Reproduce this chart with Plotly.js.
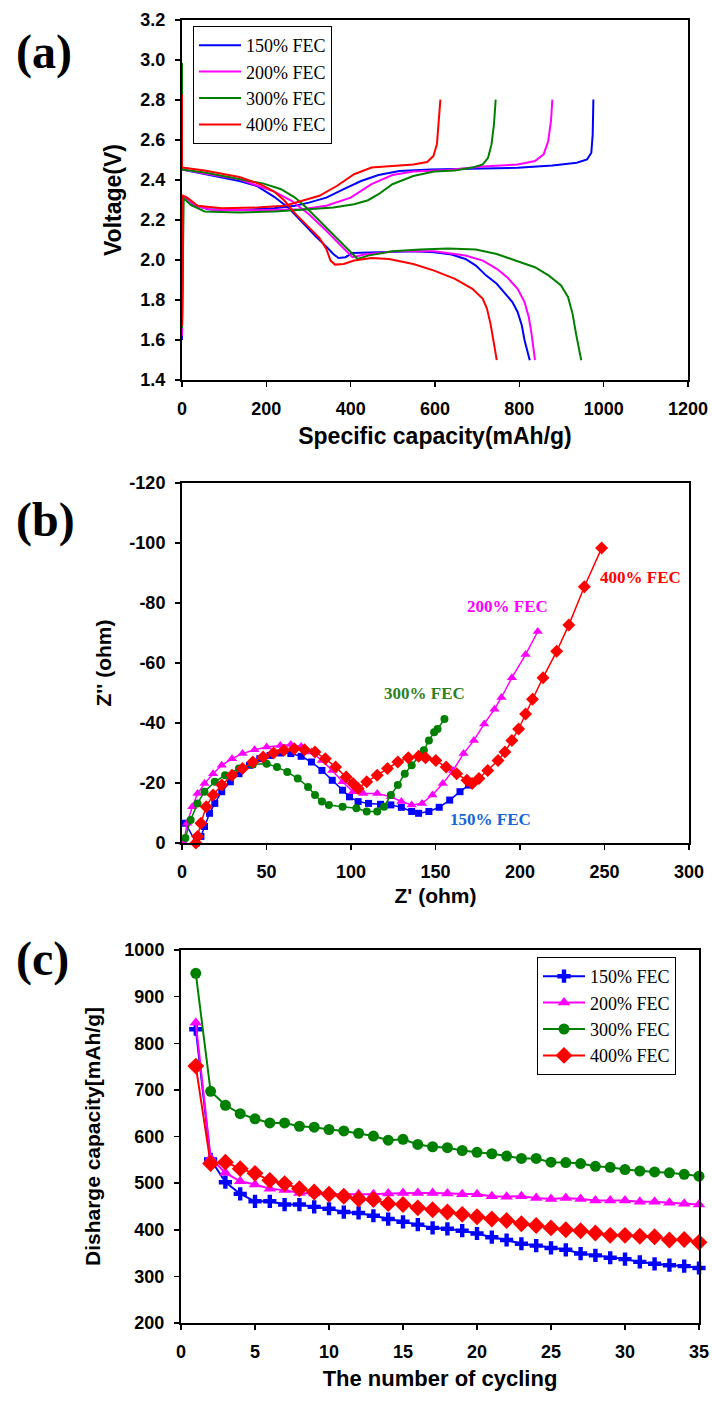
<!DOCTYPE html>
<html><head><meta charset="utf-8">
<script src="https://cdn.plot.ly/plotly-3.0.1.min.js"></script>
<style>html,body{margin:0;padding:0;background:#fff}</style>
</head><body><div id="chart" style="width:712px;height:1403px"></div>
<script>
// ---------- Panel (a): charge / discharge profiles ----------
const seriesNames = ['150% FEC', '200% FEC', '300% FEC', '400% FEC'];
const seriesColors = ['#0000FF', '#FF00FF', '#008000', '#FF0000'];

const dis150Cap = [0, 53.6, 136.1, 177.3, 218.6, 251.5, 284.5, 317.5, 342.3, 358.8, 371.1, 387.6, 404.1, 466.0, 548.5, 597.9, 639.2, 672.2, 696.9, 721.6, 746.4, 767.0, 783.5, 795.9, 805.8, 812.4, 819.0, 824.7];
const dis150V   = [2.453, 2.429, 2.395, 2.370, 2.316, 2.263, 2.188, 2.117, 2.067, 2.030, 2.010, 2.014, 2.035, 2.039, 2.044, 2.039, 2.027, 2.005, 1.972, 1.922, 1.881, 1.831, 1.790, 1.740, 1.674, 1.599, 1.541, 1.499];
const chg150Cap = [0, 2.5, 12.4, 28.9, 61.9, 136.1, 218.6, 268.0, 301.0, 342.3, 383.5, 424.7, 466.0, 515.5, 589.7, 672.2, 795.9, 878.3, 936.1, 960.8, 970.7, 974.0, 975.6, 975.6];
const chg150V   = [1.60, 2.321, 2.304, 2.276, 2.254, 2.249, 2.259, 2.271, 2.287, 2.312, 2.354, 2.395, 2.425, 2.445, 2.453, 2.457, 2.461, 2.473, 2.486, 2.503, 2.536, 2.627, 2.727, 2.802];

const dis200Cap = [0, 53.6, 136.1, 218.6, 259.8, 301.0, 342.3, 383.5, 404.1, 432.9, 507.2, 597.9, 672.2, 713.4, 746.4, 771.1, 795.9, 812.4, 822.3, 828.9, 833.8, 837.1];
const dis200V   = [2.453, 2.432, 2.404, 2.342, 2.296, 2.229, 2.146, 2.055, 2.014, 2.027, 2.044, 2.044, 2.022, 1.997, 1.956, 1.914, 1.856, 1.790, 1.715, 1.632, 1.566, 1.499];
const chg200Cap = [0, 2.5, 12.4, 37.1, 70.1, 177.3, 284.5, 342.3, 400.0, 449.5, 499.0, 548.5, 630.9, 713.4, 795.9, 837.1, 857.7, 868.4, 875.0, 878.3];
const chg200V   = [1.62, 2.316, 2.299, 2.268, 2.251, 2.249, 2.254, 2.271, 2.312, 2.379, 2.425, 2.442, 2.450, 2.467, 2.478, 2.495, 2.528, 2.594, 2.694, 2.802];

const dis300Cap = [0, 0, 53.6, 136.1, 193.8, 235.1, 268.0, 292.8, 325.8, 367.0, 400.0, 416.5, 441.2, 499.0, 565.0, 630.9, 696.9, 746.4, 795.9, 837.1, 870.1, 899.0, 915.4, 926.2, 934.4, 941.9, 946.8];
const dis300V   = [2.985, 2.453, 2.437, 2.404, 2.382, 2.354, 2.312, 2.266, 2.196, 2.110, 2.043, 2.005, 2.022, 2.044, 2.052, 2.057, 2.052, 2.030, 1.994, 1.964, 1.922, 1.873, 1.815, 1.732, 1.632, 1.549, 1.499];
const chg300Cap = [0, 4.1, 20.6, 53.6, 136.1, 218.6, 301.0, 358.8, 408.2, 441.2, 466.0, 499.0, 548.5, 597.9, 647.4, 688.6, 713.4, 725.8, 734.0, 739.8, 743.9];
const chg300V   = [1.66, 2.309, 2.276, 2.243, 2.238, 2.243, 2.254, 2.263, 2.279, 2.299, 2.329, 2.379, 2.420, 2.442, 2.448, 2.462, 2.478, 2.511, 2.578, 2.677, 2.802];

const dis400Cap = [0, 0, 53.6, 94.8, 136.1, 185.6, 218.6, 243.3, 268.0, 301.0, 325.8, 342.3, 352.2, 362.9, 383.5, 408.2, 449.5, 490.7, 548.5, 597.9, 647.4, 688.6, 713.4, 723.3, 731.6, 739.8, 746.4];
const dis400V   = [2.827, 2.462, 2.448, 2.432, 2.415, 2.379, 2.342, 2.296, 2.233, 2.163, 2.110, 2.055, 1.997, 1.977, 1.980, 1.997, 2.010, 2.005, 1.980, 1.947, 1.906, 1.856, 1.806, 1.756, 1.682, 1.582, 1.499];
const chg400Cap = [0, 2.5, 12.4, 37.1, 94.8, 177.3, 243.3, 284.5, 325.8, 367.0, 408.2, 449.5, 499.0, 548.5, 581.5, 596.3, 604.5, 608.7, 612.8];
const chg400V   = [1.67, 2.321, 2.312, 2.271, 2.259, 2.262, 2.271, 2.296, 2.321, 2.370, 2.429, 2.462, 2.470, 2.478, 2.490, 2.520, 2.578, 2.677, 2.802];

// ---------- Panel (b): Nyquist plots ----------
const eis150Re = [2.0, 8.5, 11.2, 13.3, 16.3, 19.4, 23.5, 28.6, 33.7, 39.9, 46.0, 52.1, 58.2, 64.4, 70.5, 76.6, 82.8, 88.9, 95.0, 99.1, 104.2, 110.4, 117.5, 123.6, 129.8, 135.9, 140.0, 146.1, 152.2, 158.4, 164.5, 169.6];
const eis150Im = [-6.6, 0, -2.2, -5.5, -9.9, -13.2, -17.1, -20.4, -23.1, -25.9, -28.1, -29.2, -30.0, -29.8, -28.9, -27.0, -24.2, -20.9, -17.6, -15.4, -13.8, -13.2, -12.9, -12.7, -11.9, -10.5, -9.9, -10.5, -11.9, -14.3, -17.1, -19.3];

const eis200Re = [1.0, 3.1, 6.1, 9.2, 13.3, 18.4, 23.5, 29.6, 35.8, 42.9, 50.1, 58.2, 64.4, 70.5, 76.6, 82.8, 88.9, 95.0, 101.2, 107.3, 115.5, 123.6, 129.8, 135.9, 142.0, 148.2, 154.3, 160.4, 166.6, 172.7, 178.8, 184.9, 189.0, 195.2, 203.3, 210.5];
const eis200Im = [-0.2, -6.6, -12.1, -16.5, -19.8, -23.1, -25.9, -28.1, -29.8, -31.1, -32.0, -32.5, -32.8, -32.2, -30.3, -27.5, -24.2, -20.4, -17.1, -16.5, -16.5, -15.4, -13.8, -12.7, -13.2, -16.0, -19.8, -24.2, -29.8, -34.2, -39.7, -44.6, -48.5, -55.1, -62.8, -70.5];

const eis300Re = [2.0, 5.1, 9.2, 13.3, 19.4, 25.5, 33.7, 41.9, 50.1, 56.2, 62.3, 68.5, 74.6, 78.7, 82.8, 86.9, 95.0, 103.2, 109.3, 115.5, 119.6, 123.6, 127.7, 131.8, 135.9, 140.0, 143.1, 146.1, 149.2, 151.2, 155.3];
const eis300Im = [-1.7, -7.7, -13.2, -17.1, -20.4, -22.6, -24.8, -26.2, -26.4, -25.3, -23.7, -21.5, -18.7, -16.0, -13.8, -12.7, -12.1, -11.6, -10.5, -10.5, -12.1, -16.0, -19.3, -23.1, -25.9, -28.7, -30.9, -34.2, -36.9, -38.0, -41.3];

const eis400Re = [8.2, 9.2, 11.2, 14.3, 18.4, 23.5, 29.6, 35.8, 41.9, 48.0, 54.2, 60.3, 66.4, 72.5, 78.7, 84.8, 90.9, 97.1, 101.2, 104.2, 109.3, 115.5, 121.6, 127.7, 133.9, 140.0, 144.1, 150.2, 156.3, 162.5, 168.6, 171.7, 175.7, 180.9, 187.0, 191.1, 195.2, 199.2, 203.3, 207.4, 213.6, 221.7, 228.9, 238.1, 248.3];
const eis400Im = [0, -2.2, -6.6, -12.1, -16.0, -19.3, -22.6, -24.8, -27.0, -28.7, -30.0, -30.9, -31.4, -31.1, -30.3, -28.1, -25.3, -22.0, -19.8, -18.2, -20.4, -22.6, -24.8, -27.0, -28.4, -28.9, -28.4, -27.5, -25.3, -23.1, -20.9, -19.8, -21.5, -24.2, -27.5, -30.3, -34.2, -38.0, -43.0, -47.9, -55.1, -63.9, -72.7, -85.4, -98.3];

const eisTickVals = [0, -20, -40, -60, -80, -100, -120];
const eisTickText = ['0', '-20', '-40', '-60', '-80', '-100', '-120'];

// ---------- Panel (c): cycling ----------
const cycles = [1,2,3,4,5,6,7,8,9,10,11,12,13,14,15,16,17,18,19,20,21,22,23,24,25,26,27,28,29,30,31,32,33,34,35];
const cyc150 = [830, 551, 502, 477, 461, 461, 454, 454, 449, 445, 438, 436, 430, 423, 417, 411, 404, 402, 398, 392, 384, 378, 370, 366, 361, 357, 349, 345, 340, 337, 331, 327, 324, 322, 318];
const cyc200 = [844, 554, 522, 504, 497, 488, 485, 479, 478, 476, 476, 476, 476, 478, 479, 479, 479, 478, 476, 476, 472, 471, 472, 468, 466, 468, 466, 463, 463, 463, 460, 460, 458, 456, 454];
const cyc300 = [950, 697, 667, 649, 638, 629, 629, 622, 620, 615, 612, 607, 601, 592, 594, 583, 578, 576, 570, 566, 563, 558, 553, 553, 545, 544, 542, 536, 534, 529, 526, 524, 522, 519, 515];
const cyc400 = [751, 542, 545, 531, 521, 506, 499, 488, 481, 476, 472, 466, 465, 456, 454, 447, 443, 438, 433, 428, 423, 420, 413, 409, 404, 400, 398, 393, 388, 388, 386, 385, 378, 379, 373];

const panelLabels = ['(a)', '(b)', '(c)'];
const eisLabelX = [157.4, 167.6, 118.5, 246];
const eisLabelY = [-7.7, -78.8, -49.8, -88.5];
const eisLabelColors = ['#1565d8', '#FF00FF', '#2f7f1f', '#FF0000'];

// ---------- build traces ----------
const W = 712, H = 1403;
const join = (a, b) => a.concat([null], b);
const disCaps = [dis150Cap, dis200Cap, dis300Cap, dis400Cap];
const disVs = [dis150V, dis200V, dis300V, dis400V];
const chgCaps = [chg150Cap, chg200Cap, chg300Cap, chg400Cap];
const chgVs = [chg150V, chg200V, chg300V, chg400V];
const eisRe = [eis150Re, eis200Re, eis300Re, eis400Re];
const eisIm = [eis150Im, eis200Im, eis300Im, eis400Im];
const cyc = [cyc150, cyc200, cyc300, cyc400];
const eisSymbols = ['square', 'triangle-up', 'circle', 'diamond'];
const eisSizes = [7, 9, 8, 10];
const cycSymbols = ['cross', 'triangle-up', 'circle', 'diamond'];
const cycSizes = [11, 11, 11, 13];

const traces = [];
for (let i = 0; i < 4; i++) {
  traces.push({
    type: 'scatter', mode: 'lines', name: seriesNames[i],
    x: join(disCaps[i], chgCaps[i]), y: join(disVs[i], chgVs[i]),
    xaxis: 'x', yaxis: 'y', legend: 'legend',
    line: {color: seriesColors[i], width: 2}
  });
}
for (let i = 0; i < 4; i++) {
  traces.push({
    type: 'scatter', mode: 'lines+markers', name: seriesNames[i],
    x: eisRe[i], y: eisIm[i], xaxis: 'x2', yaxis: 'y2', showlegend: false,
    line: {color: seriesColors[i], width: 1.5},
    marker: {symbol: eisSymbols[i], size: eisSizes[i], color: seriesColors[i]},
    cliponaxis: false
  });
}
for (let i = 0; i < 4; i++) {
  traces.push({
    type: 'scatter', mode: 'lines+markers', name: seriesNames[i],
    x: cycles, y: cyc[i], xaxis: 'x3', yaxis: 'y3', legend: 'legend2',
    line: {color: seriesColors[i], width: 2},
    marker: {symbol: cycSymbols[i], size: cycSizes[i], color: seriesColors[i]},
    cliponaxis: false
  });
}

const sans = 'Liberation Sans, Arial, sans-serif';
const serif = 'Liberation Serif, Times New Roman, serif';
const tickFont = {family: sans, size: 18, color: '#000', weight: 'bold'};
const tf = (s) => ({family: sans, size: s, color: '#000', weight: 'bold'});
const axBase = {
  showline: true, linecolor: '#000', linewidth: 2, mirror: true,
  ticks: 'outside', ticklen: 5, tickwidth: 1.5, tickcolor: '#000',
  showgrid: false, zeroline: false, tickfont: tickFont, ticklabelstandoff: 6,
  fixedrange: true
};
const ax = (o) => Object.assign({}, axBase, o);

const legendBase = {
  xanchor: 'left', yanchor: 'top', bgcolor: '#fff', bordercolor: '#000', borderwidth: 1,
  font: {family: serif, size: 18, color: '#000'},
  tracegroupgap: 0, itemwidth: 42
};

const annotations = [];
const labelY = [52, 520, 959];
for (let i = 0; i < 3; i++) {
  annotations.push({
    xref: 'paper', yref: 'paper', x: 14 / W, y: 1 - labelY[i] / H,
    xanchor: 'left', yanchor: 'middle', showarrow: false, text: panelLabels[i],
    font: {family: serif, size: 48, color: '#000', weight: 'bold'}
  });
}
for (let i = 0; i < 4; i++) {
  annotations.push({
    xref: 'x2', yref: 'y2', x: eisLabelX[i], y: eisLabelY[i], xanchor: 'left', yanchor: 'middle',
    showarrow: false, text: seriesNames[i],
    font: {family: serif, size: 17, color: eisLabelColors[i], weight: 'bold'}
  });
}

const layout = {
  width: W, height: H, margin: {l: 0, r: 0, t: 0, b: 0},
  paper_bgcolor: '#fff', plot_bgcolor: '#fff', showlegend: true,
  font: {family: sans, color: '#000'},
  xaxis: ax({domain: [182 / W, 688 / W], range: [0, 1200], dtick: 200, anchor: 'y',
    title: {text: 'Specific capacity(mAh/g)', font: tf(23), standoff: 10}}),
  yaxis: ax({domain: [1 - 380 / H, 1 - 20 / H], range: [1.4, 3.2], dtick: 0.2, tickformat: '.1f', anchor: 'x',
    title: {text: 'Voltage(V)', font: tf(23), standoff: 12}}),
  xaxis2: ax({domain: [182 / W, 689 / W], range: [0, 300], dtick: 50, anchor: 'y2',
    title: {text: "Z' (ohm)", font: tf(21), standoff: 8}}),
  yaxis2: ax({domain: [1 - 843 / H, 1 - 483 / H], range: [0, -120], tickmode: 'array',
    tickvals: eisTickVals, ticktext: eisTickText, anchor: 'x2',
    title: {text: "Z'' (ohm)", font: tf(21), standoff: 12}}),
  xaxis3: ax({domain: [181 / W, 699 / W], range: [0, 35], dtick: 5, anchor: 'y3',
    title: {text: 'The number of cycling', font: tf(22), standoff: 10}}),
  yaxis3: ax({domain: [1 - 1323 / H, 1 - 950 / H], range: [200, 1000], dtick: 100, anchor: 'x3',
    title: {text: 'Disharge capacity[mAh/g]', font: tf(21), standoff: 18}}),
  legend: Object.assign({}, legendBase, {x: 193 / W, y: 1 - 26 / H}),
  legend2: Object.assign({}, legendBase, {x: 537 / W, y: 1 - 957 / H}),
  annotations: annotations
};

Plotly.newPlot('chart', traces, layout, {displayModeBar: false, staticPlot: true});
</script></body></html>
